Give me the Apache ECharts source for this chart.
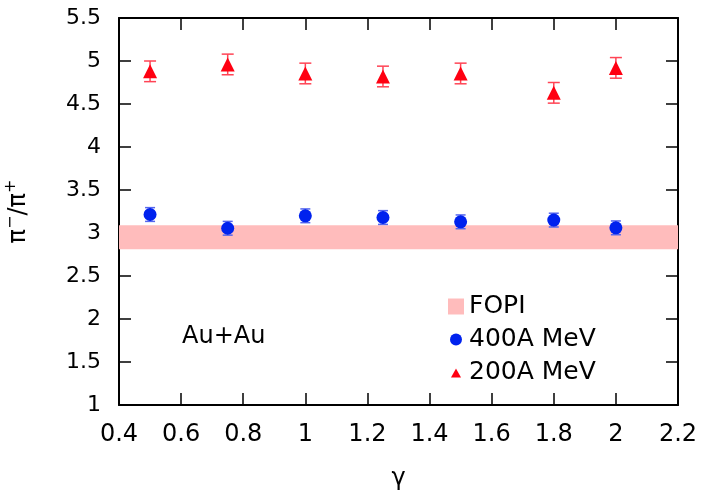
<!DOCTYPE html>
<html>
<head>
<meta charset="utf-8">
<script src="https://cdn.jsdelivr.net/npm/echarts@6/dist/echarts.min.js"></script>
<style>
  html, body { margin: 0; padding: 0; background: #fff; }
  #chart { width: 704px; height: 491px; }
</style>
</head>
<body>
<div id="chart"></div>
<script>
// gamma values (x)
const gammas = [0.5, 0.75, 1.0, 1.25, 1.5, 1.8, 2.0]
// pi-/pi+ ratio, 400A MeV
const ratio400 = [3.215, 3.055, 3.20, 3.18, 3.13, 3.15, 3.06]
const err400 = [0.08, 0.08, 0.08, 0.08, 0.08, 0.08, 0.08]
// pi-/pi+ ratio, 200A MeV
const ratio200 = [4.88, 4.96, 4.855, 4.82, 4.855, 4.63, 4.92]
const err200 = [0.12, 0.12, 0.12, 0.12, 0.12, 0.12, 0.12]
// FOPI band
const fopiX = [0.4, 2.2]
const fopiY = [2.81, 3.09]

const font = 'DejaVu Sans, sans-serif'

function errorBars (vals, errs, color, w) {
  return {
    type: 'custom',
    silent: true,
    z: 3,
    data: gammas.map((g, i) => [g, vals[i] - errs[i], vals[i] + errs[i]]),
    renderItem (params, api) {
      const lo = api.coord([api.value(0), api.value(1)])
      const hi = api.coord([api.value(0), api.value(2)])
      const style = {stroke: color, lineWidth: 1.5}
      return {
        type: 'group',
        children: [
          {type: 'line', shape: {x1: lo[0], y1: lo[1], x2: hi[0], y2: hi[1]}, style},
          {type: 'line', shape: {x1: lo[0] - w, y1: lo[1], x2: lo[0] + w, y2: lo[1]}, style},
          {type: 'line', shape: {x1: hi[0] - w, y1: hi[1], x2: hi[0] + w, y2: hi[1]}, style}
        ]
      }
    }
  }
}

const chart = echarts.init(document.getElementById('chart'))
const axisLine = {show: true, lineStyle: {color: '#000', width: 2}}
const tick = {show: true, inside: true, length: 12, lineStyle: {color: '#000', width: 1.5}}

const option = {
  animation: false,
  textStyle: {fontFamily: font},
  grid: {left: 119, right: 26, top: 18, bottom: 86, containLabel: false, outerBoundsMode: 'none'},
  legend: {
    orient: 'vertical',
    left: 443,
    top: 289,
    itemGap: 8,
    itemWidth: 16,
    itemHeight: 16,
    itemTextGap: 16,
    textStyle: {fontSize: 25, color: '#000', fontFamily: font},
    data: [
      {name: 'FOPI', icon: 'rect', itemStyle: {color: '#ffbcbc'}},
      {name: '400A MeV', icon: 'path://M0,0 M16,16 M2,8 A6,6 0 1,1 14,8 A6,6 0 1,1 2,8 Z'},
      {name: '200A MeV', icon: 'path://M0,0 M16,16 M3,13 L8,4 L13,13 Z'}
    ]
  },
  xAxis: [
    {
      type: 'value', min: 0.4, max: 2.2, interval: 0.2,
      name: 'γ', nameLocation: 'middle', nameGap: 62,
      nameTextStyle: {fontSize: 24, color: '#000'},
      axisLine, axisTick: tick, splitLine: {show: false},
      axisLabel: {fontSize: 24, color: '#000', margin: 18,
        formatter: v => String(Math.round(v * 10) / 10)}
    },
    {
      type: 'value', position: 'top', min: 0.4, max: 2.2, interval: 0.2,
      axisLine, axisTick: tick, splitLine: {show: false}, axisLabel: {show: false}
    }
  ],
  yAxis: [
    {
      type: 'value', min: 1, max: 5.5, interval: 0.5,
      name: '{b|π}{s|−}{b|/π}{s|+}', nameLocation: 'middle', nameGap: 84, nameRotate: 90,
      nameTextStyle: {
        fontSize: 24, color: '#000',
        rich: {
          b: {fontSize: 24, fontFamily: font, color: '#000'},
          s: {fontSize: 16, fontFamily: font, color: '#000', padding: [0, 0, 16, 0]}
        }
      },
      axisLine, axisTick: tick, splitLine: {show: false},
      axisLabel: {fontSize: 22, color: '#000', margin: 18}
    },
    {
      type: 'value', position: 'right', min: 1, max: 5.5, interval: 0.5,
      axisLine, axisTick: tick, splitLine: {show: false}, axisLabel: {show: false}
    }
  ],
  graphic: [
    {type: 'text', left: 182, top: 325,
      style: {text: 'Au+Au', fontSize: 24, fill: '#000', fontFamily: font}}
  ],
  series: [
    {
      name: 'FOPI',
      type: 'custom',
      z: 1,
      itemStyle: {color: '#ffbcbc'},
      data: [[fopiX[0], fopiY[0], fopiX[1], fopiY[1]]],
      renderItem (params, api) {
        const p0 = api.coord([api.value(0), api.value(3)])
        const p1 = api.coord([api.value(2), api.value(1)])
        return {
          type: 'rect',
          shape: {x: p0[0], y: p0[1], width: p1[0] - p0[0], height: p1[1] - p0[1]},
          style: {fill: '#ffbcbc'}
        }
      }
    },
    errorBars(ratio400, err400, '#5566ee', 5),
    errorBars(ratio200, err200, '#ff4455', 6),
    {
      name: '400A MeV',
      type: 'scatter',
      z: 4,
      symbol: 'circle',
      symbolSize: 13,
      itemStyle: {color: '#0022ee', opacity: 1},
      data: gammas.map((g, i) => [g, ratio400[i]])
    },
    {
      name: '200A MeV',
      type: 'scatter',
      z: 4,
      symbol: 'triangle',
      symbolSize: 14,
      itemStyle: {color: '#ff0011', opacity: 1},
      data: gammas.map((g, i) => [g, ratio200[i]])
    }
  ]
}
chart.setOption(option)
</script>
</body>
</html>
